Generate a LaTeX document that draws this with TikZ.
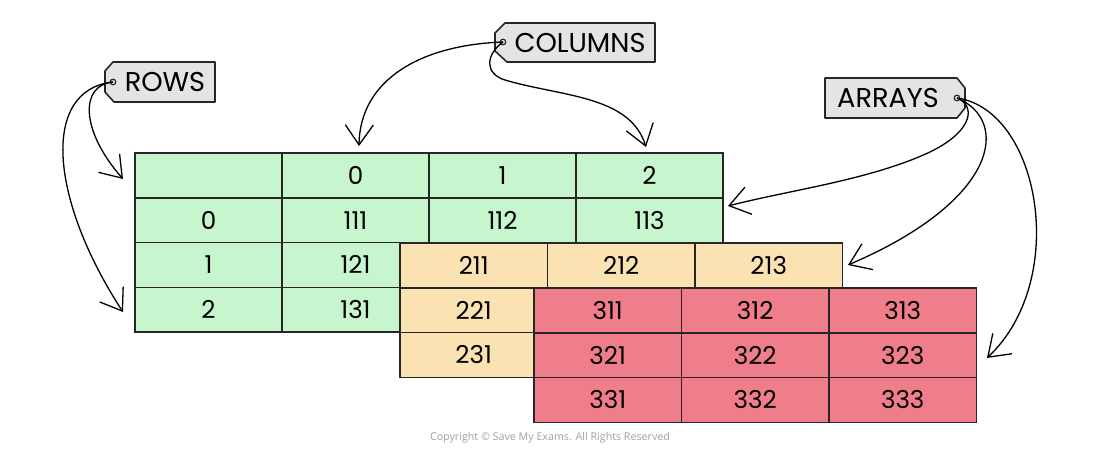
\documentclass[tikz,border=0pt]{standalone}
\usepackage{fontspec}
\setmainfont{Poppins}
\newfontfamily\cpfont{Open Sans}
\usetikzlibrary{arrows.meta}
\definecolor{gfill}{HTML}{C6F5CE}
\definecolor{ofill}{HTML}{FAE2B3}
\definecolor{rfill}{HTML}{EF7D8A}
\definecolor{tagfill}{HTML}{E4E4E4}
\definecolor{edge}{HTML}{262626}
\definecolor{cpgray}{HTML}{A0A0A0}
\begin{document}
\begin{tikzpicture}[x=0.5pt,y=-0.5pt,
  cellbase/.style={draw=edge, line width=0.75pt, minimum height=22.375pt, inner sep=0pt, outer sep=0pt, font=\fontsize{12.3}{14}\selectfont, text=black},
  gcell/.style={cellbase, fill=gfill, minimum width=73.5pt},
  ocell/.style={cellbase, fill=ofill, minimum width=73.75pt},
  rcell/.style={cellbase, fill=rfill, minimum width=73.75pt},
  tagshape/.style={draw=edge, fill=tagfill, line width=0.8pt, line join=round},
  taglabel/.style={inner sep=0pt, font=\fontsize{13.6}{15}\selectfont, text=black},
  hole/.style={draw=edge, line width=0.6pt, fill=tagfill},
  pointer/.style={draw=black, line width=0.65pt, -{Straight Barb[length=10pt,width=14pt,line width=0.65pt]}}
]
\useasboundingbox (0,0) rectangle (1100,456);

% green table
\node[gcell] (g00) at (208.5,175.375) {};
\node[gcell] (g01) at (355.5,175.375) {0};
\node[gcell] (g02) at (502.5,175.375) {1};
\node[gcell] (g03) at (649.5,175.375) {2};
\node[gcell] (g10) at (208.5,220.125) {0};
\node[gcell] (g11) at (355.5,220.125) {111};
\node[gcell] (g12) at (502.5,220.125) {112};
\node[gcell] (g13) at (649.5,220.125) {113};
\node[gcell] (g20) at (208.5,264.875) {1};
\node[gcell] (g21) at (355.5,264.875) {121};
\node[gcell] (g30) at (208.5,309.625) {2};
\node[gcell] (g31) at (355.5,309.625) {131};

% orange table
\node[ocell] (o11) at (473.75,265.375) {211};
\node[ocell] (o12) at (621.25,265.375) {212};
\node[ocell] (o13) at (768.75,265.375) {213};
\node[ocell] (o21) at (473.75,310.125) {221};
\node[ocell] (o31) at (473.75,354.875) {231};

% red table
\node[rcell] (r11) at (607.75,310.375) {311};
\node[rcell] (r12) at (755.25,310.375) {312};
\node[rcell] (r13) at (902.75,310.375) {313};
\node[rcell] (r21) at (607.75,355.125) {321};
\node[rcell] (r22) at (755.25,355.125) {322};
\node[rcell] (r23) at (902.75,355.125) {323};
\node[rcell] (r31) at (607.75,399.875) {331};
\node[rcell] (r32) at (755.25,399.875) {332};
\node[rcell] (r33) at (902.75,399.875) {333};

% tags
\draw[tagshape] (113,62) -- (215,62) -- (215,102) -- (114,102) -- (105,92) -- (105,71) -- cycle;
\node[taglabel] (rows) at (165,82) {ROWS};
\coordinate (rowshole) at (113,82);
\draw[hole] (rowshole) circle[radius=1.4pt];

\draw[tagshape] (505,23) -- (655,23) -- (655,62) -- (507,62) -- (495,51) -- (495,33) -- cycle;
\node[taglabel] (cols) at (580,43) {COLUMNS};
\coordinate (colshole) at (503,42);
\draw[hole] (colshole) circle[radius=1.4pt];

\draw[tagshape] (825,78) -- (957,78) -- (965,88) -- (965,108) -- (957,118) -- (825,118) -- cycle;
\node[taglabel] (arrays) at (888,98) {ARRAYS};
\coordinate (arrhole) at (957,98);
\draw[hole] (arrhole) circle[radius=1.4pt];

% arrow end points
\coordinate (rowtipA) at (123,179);
\coordinate (rowtipB) at (123,312);
\coordinate (coltipA) at (359,146);
\coordinate (coltipB) at (646,147);
\coordinate (arrtipA) at (728,206);
\coordinate (arrtipB) at (848,265);
\coordinate (arrtipC) at (987,358);

% arrows
\draw[pointer] (rowshole) .. controls (80,85) and (80,130) .. (rowtipA);
\draw[pointer] (rowshole) .. controls (40,90) and (50,200) .. (rowtipB);
\draw[pointer] (colshole) .. controls (420,45) and (360,80) .. (coltipA);
\draw[pointer] (colshole) .. controls (485,55) and (485,74) .. (505,80) .. controls (560,96.5) and (630,95) .. (coltipB);
\draw[pointer] (arrhole) .. controls (975,105) and (975,130) .. (930,152) .. controls (870,180) and (790,190) .. (arrtipA);
\draw[pointer] (arrhole) .. controls (1010,120) and (1000,200) .. (arrtipB);
\draw[pointer] (arrhole) .. controls (1040,110) and (1070,280) .. (arrtipC);

\node[inner sep=0pt, text=cpgray, font=\cpfont\fontsize{5.35}{7}\selectfont] (copy) at (550,438) {Copyright \textcopyright{} Save My Exams. All Rights Reserved};
\end{tikzpicture}
\end{document}
